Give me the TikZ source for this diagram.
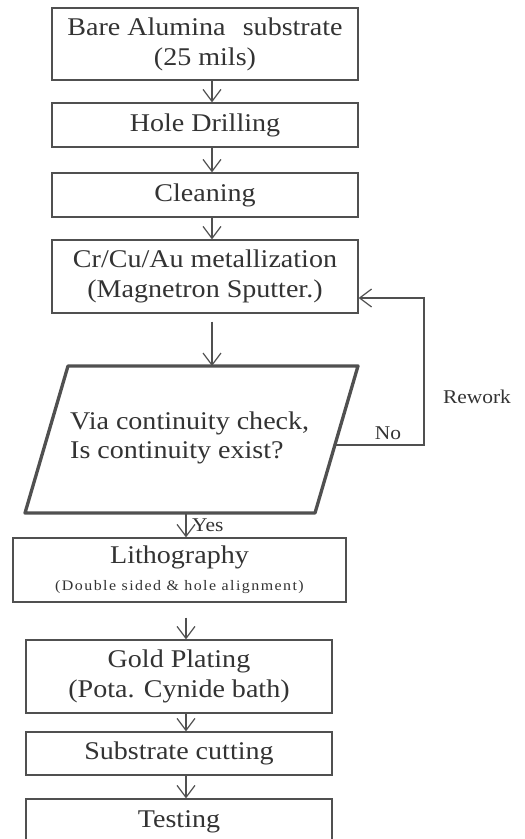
\documentclass[tikz,border=0pt]{standalone}
\usepackage{fontspec}
\setmainfont{Liberation Serif}[FakeStretch=1.1]
\usetikzlibrary{arrows.meta}
\definecolor{ink}{HTML}{333333}
\definecolor{edge}{HTML}{505050}
\begin{document}
\begin{tikzpicture}[x=1pt,y=-1pt,
  every node/.style={text=ink},
  procbox/.style={draw=edge,line width=1.2pt,rectangle,inner sep=0pt,align=center,
     font=\fontsize{25.5}{30}\selectfont},
  arr/.style={draw=edge,line width=1.2pt,-{Straight Barb[length=12pt,width=18pt,line width=1.2pt]}},
  lbl/.style={font=\fontsize{19.5}{21}\selectfont,inner sep=0pt}]
\clip (0,0) rectangle (525,839);
\fill[white] (0,0) rectangle (525,839);
\coordinate (axa) at (212,0);
\coordinate (axb) at (186,0);
% boxes
\node[procbox,minimum width=306pt,minimum height=72pt] (b1) at (205,44) {Bare Alumina\hspace{0.4em} substrate\\(25 mils)};
\node[procbox,minimum width=306pt,minimum height=44pt] (b2) at (205,125) {Hole Drilling};
\node[procbox,minimum width=306pt,minimum height=44pt] (b3) at (205,195) {Cleaning};
\node[procbox,minimum width=306pt,minimum height=73pt] (b4) at (205,276.5) {Cr/Cu/Au metallization\\(Magnetron Sputter.)};
% parallelogram
\coordinate (ptl) at (68,366);
\coordinate (ptr) at (358,366);
\coordinate (pbr) at (315,513);
\coordinate (pbl) at (25,513);
\draw[edge,line width=3.3pt,line join=round] (ptl) -- (ptr) -- (pbr) -- (pbl) -- cycle;
\node[align=left,inner sep=0pt,font=\fontsize{25.5}{29}\selectfont,anchor=west] (pt) at (70,438) {Via continuity check,\\Is continuity exist?};
\coordinate (nox) at (334.9,445);
\coordinate (rew) at (424,298);
\node[procbox,minimum width=333pt,minimum height=64pt] (b5) at (179.5,570) {Lithography\\[-3pt]{\fontsize{14.5}{16}\selectfont\addfontfeature{LetterSpace=10}(Double sided \& hole alignment)}};
\node[procbox,minimum width=306pt,minimum height=73pt] (b6) at (179,676.5) {Gold Plating\\(Pota. Cynide bath)};
\node[procbox,minimum width=306pt,minimum height=43pt] (b7) at (179,753.5) {Substrate cutting};
\node[procbox,minimum width=306pt,minimum height=45pt] (b8) at (179,821.5) {Testing};
% labels
\node[lbl] (rl) at (477,397) {Rework};
\node[lbl] (nl) at (388,433) {No};
\node[lbl,anchor=west] (yl) at (192,525) {Yes};
% connectors
\draw[arr] (b1.south -| axa) -- (b2.north -| axa);
\draw[arr] (b2.south -| axa) -- (b3.north -| axa);
\draw[arr] (b3.south -| axa) -- (b4.north -| axa);
\draw[arr] ([yshift=-8pt]b4.south -| axa) -- (ptl -| axa);
\draw[arr] (nox) -| (rew) -- (rew -| b4.east);
\draw[arr] (pbl -| axb) -- (b5.north -| axb);
\draw[arr] ([yshift=-15pt]b5.south -| axb) -- (b6.north -| axb);
\draw[arr] (b6.south -| axb) -- (b7.north -| axb);
\draw[arr] (b7.south -| axb) -- (b8.north -| axb);
\end{tikzpicture}
\end{document}
